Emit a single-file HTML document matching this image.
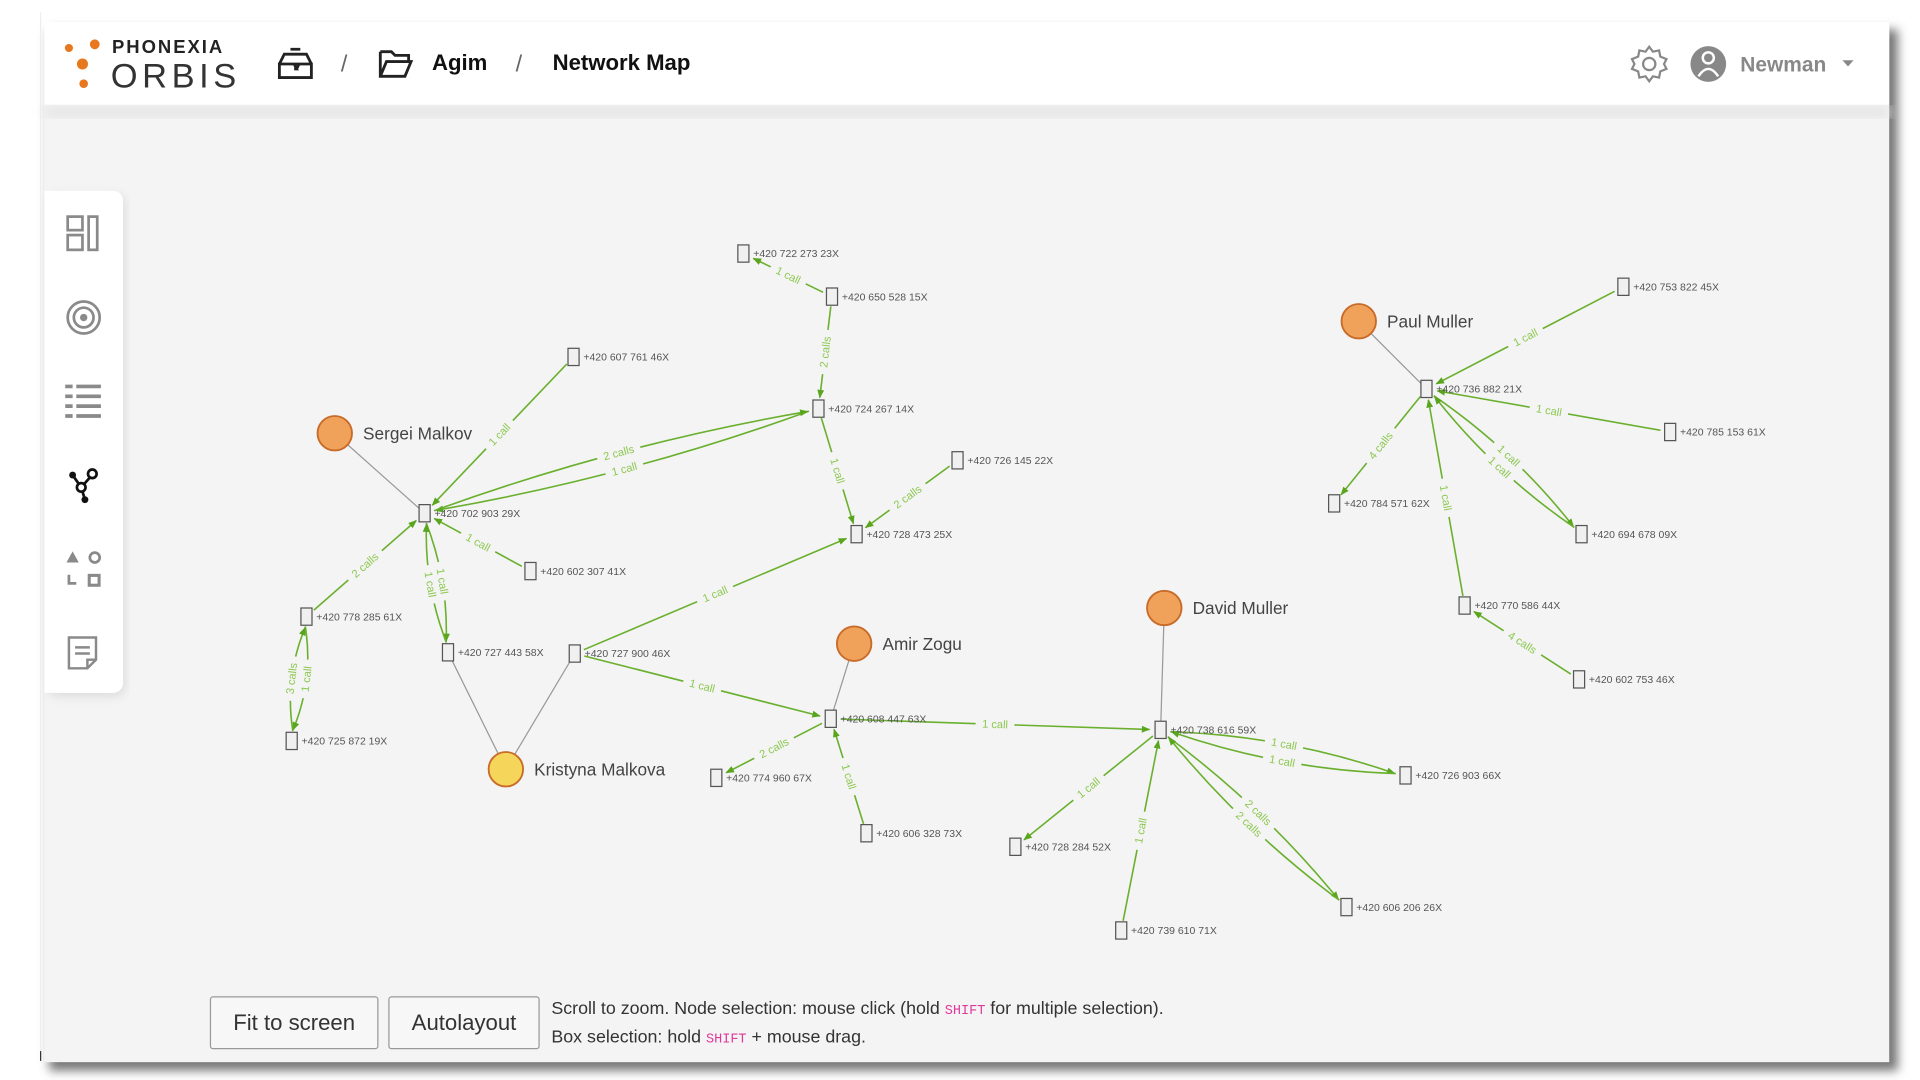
<!DOCTYPE html>
<html><head><meta charset="utf-8"><style>
html,body{margin:0;padding:0;width:1920px;height:1080px;overflow:hidden;background:#fff}
svg{display:block}
</style></head><body>
<svg id="s" width="1920" height="1080" viewBox="0 0 1560 877.5" preserveAspectRatio="none" xmlns="http://www.w3.org/2000/svg" font-family="Liberation Sans, sans-serif">
<defs>
<marker id="ar" viewBox="0 0 10 10" refX="9" refY="5" markerWidth="7" markerHeight="7" orient="auto" markerUnits="userSpaceOnUse"><path d="M0,1 L10,5 L0,9 z" fill="#5aa51e"/></marker>
<filter id="sh" x="-5%" y="-5%" width="110%" height="110%"><feGaussianBlur stdDeviation="4"/></filter>
</defs>
<rect x="40" y="24" width="1502" height="846" fill="#777" filter="url(#sh)"/>
<rect x="36" y="18" width="1499" height="845" fill="#f4f4f4"/>
<line x1="33" y1="10" x2="33" y2="862" stroke="#eee" stroke-width="1"/>
<line x1="33" y1="854" x2="33" y2="862" stroke="#333" stroke-width="1"/>
<rect x="36" y="86" width="1499" height="10" fill="#e6e6e6" filter="url(#sh)"/>
<rect x="36" y="18" width="1499" height="67" fill="#fff"/>
<circle cx="56" cy="39" r="3.3" fill="#e8781e"/><circle cx="77" cy="36" r="4" fill="#e8781e"/>
<circle cx="67" cy="52" r="4.5" fill="#e8781e"/><circle cx="68" cy="68" r="3.5" fill="#e8781e"/>
<text x="91" y="43" font-size="15" font-weight="bold" letter-spacing="1.6" fill="#222">PHONEXIA</text>
<text x="90" y="71" font-size="28" letter-spacing="4" fill="#333" textLength="106">ORBIS</text>
<g fill="none" stroke="#222" stroke-width="2.3"><path d="M227,52 h26 v11 h-26 z M227,52 l4,-8 h18 l4,8 M234,44 h12 M236,40 h8 M233,52 h6 l2,4 h-2 M241,56 l2,-4 h6"/></g>
<text x="277" y="58" font-size="19" fill="#666">/</text>
<g fill="none" stroke="#222" stroke-width="2.3"><path d="M309,42 h9 l3,3 h11 v5 M309,42 v20 h20 l5,-12 h-20 l-5,12"/></g>
<text x="351" y="57" font-size="18" font-weight="bold" fill="#111">Agim</text>
<text x="419" y="58" font-size="19" fill="#666">/</text>
<text x="449" y="57" font-size="18" font-weight="bold" fill="#111">Network Map</text>
<g fill="none" stroke="#888" stroke-width="1.8"><circle cx="1340" cy="52" r="5"/><path d="M1340,38 l3,4 l5,-1 l1,5 l5,2 l-2,4 l2,4 l-5,2 l-1,5 l-5,-1 l-3,4 l-3,-4 l-5,1 l-1,-5 l-5,-2 l2,-4 l-2,-4 l5,-2 l1,-5 l5,1 z"/></g>
<circle cx="1388" cy="52" r="14.5" fill="#888"/><circle cx="1388" cy="47" r="4.5" fill="none" stroke="#fff" stroke-width="2"/><path d="M1380,62 q8,-12 16,0" fill="none" stroke="#fff" stroke-width="2"/>
<text x="1414" y="58" font-size="17" font-weight="bold" fill="#888">Newman</text>
<path d="M1497,49 h9 l-4.5,5 z" fill="#888"/>
<rect x="38" y="158" width="64" height="408" rx="8" fill="#ddd" filter="url(#sh)"/>
<path d="M36,155 h56 a8,8 0 0 1 8,8 v392 a8,8 0 0 1 -8,8 h-56 z" fill="#fff"/>
<g fill="none" stroke="#8a8a8a" stroke-width="2.2">
<rect x="55" y="176" width="12" height="11"/><rect x="55" y="191" width="12" height="12"/><rect x="72" y="176" width="7" height="27"/>
<circle cx="68" cy="258" r="13"/><circle cx="68" cy="258" r="8"/>
</g>
<circle cx="68" cy="258" r="3" fill="#8a8a8a"/>
<g stroke="#8a8a8a" stroke-width="3"><path d="M53,314 h6 M62,314 h20 M53,322 h6 M62,322 h20 M53,330 h6 M62,330 h20 M53,338 h6 M62,338 h20"/></g>
<g stroke="#111" stroke-width="2.2" fill="none"><path d="M59,386 L66,396 L69,406 M66,396 L73,388"/><circle cx="66" cy="396" r="3.5" fill="#fff"/><circle cx="75" cy="385" r="3.5" fill="#fff"/></g>
<circle cx="59" cy="386" r="2.8" fill="#111"/><circle cx="69" cy="406" r="2.8" fill="#111"/>
<path d="M54,457 l5,-9 l5,9 z" fill="#8a8a8a"/><circle cx="77" cy="453" r="4" fill="none" stroke="#8a8a8a" stroke-width="2.2"/>
<path d="M56,467 v7 h6" fill="none" stroke="#8a8a8a" stroke-width="2.2"/><rect x="72.5" y="467.5" width="8" height="8" fill="none" stroke="#8a8a8a" stroke-width="2.5"/>
<g fill="none" stroke="#8a8a8a" stroke-width="2"><path d="M56,518 h22 v18 l-7,7 h-15 z M71,543 v-7 h7 M61,526 h12 M61,531 h12"/></g>
<rect x="171" y="810" width="136" height="42" rx="2" fill="#f7f7f7" stroke="#999"/>
<text x="239" y="837" font-size="18" text-anchor="middle" fill="#333">Fit to screen</text>
<rect x="316" y="810" width="122" height="42" rx="2" fill="#f7f7f7" stroke="#999"/>
<text x="377" y="837" font-size="18" text-anchor="middle" fill="#333">Autolayout</text>
<text x="448" y="824" font-size="14.5" fill="#333">Scroll to zoom. Node selection: mouse click (hold <tspan font-family="Liberation Mono, monospace" font-size="11" fill="#e0389a">SHIFT</tspan> for multiple selection).</text>
<text x="448" y="847" font-size="14.5" fill="#333">Box selection: hold <tspan font-family="Liberation Mono, monospace" font-size="11" fill="#e0389a">SHIFT</tspan> + mouse drag.</text>
<g id="g"></g>
</svg>
<script>
var N={A:[604,206,"+420 722 273 23X"],B:[676,241,"+420 650 528 15X"],C:[466,290,"+420 607 761 46X"],D:[665,332,"+420 724 267 14X"],E:[778,374,"+420 726 145 22X"],F:[345,417,"+420 702 903 29X"],G:[696,434,"+420 728 473 25X"],H:[431,464,"+420 602 307 41X"],I:[249,501,"+420 778 285 61X"],J:[364,530,"+420 727 443 58X"],K:[467,531,"+420 727 900 46X"],L:[237,602,"+420 725 872 19X"],M:[675,584,"+420 608 447 63X"],Nn:[582,632,"+420 774 960 67X"],O:[704,677,"+420 606 328 73X"],P:[943,593,"+420 738 616 59X"],Q:[1142,630,"+420 726 903 66X"],R:[825,688,"+420 728 284 52X"],S:[911,756,"+420 739 610 71X"],T:[1094,737,"+420 606 206 26X"],U:[1319,233,"+420 753 822 45X"],V:[1159,316,"+420 736 882 21X"],W:[1357,351,"+420 785 153 61X"],X:[1084,409,"+420 784 571 62X"],Y:[1285,434,"+420 694 678 09X"],Z:[1190,492,"+420 770 586 44X"],AA:[1283,552,"+420 602 753 46X"]};
var P=[["Sergei Malkov",272,352,"#f0a25a","F"],["Paul Muller",1104,261,"#f0a25a","V"],["Amir Zogu",694,523,"#f0a25a","M"],["David Muller",946,494,"#f0a25a","P"],["Kristyna Malkova",411,625,"#f5d55a","J","K"]];
var E=[["B","A","1 call",0],["B","D","2 calls",0],["C","F","1 call",0],["D","F","1 call",-14],["F","D","2 calls",-14],["D","G","1 call",0],["E","G","2 calls",0],["H","F","1 call",0],["I","F","2 calls",0],["F","J","1 call",-10],["J","F","1 call",-10],["I","L","1 call",-12],["L","I","3 calls",-12],["K","G","1 call",0],["K","M","1 call",0],["M","Nn","2 calls",0],["O","M","1 call",0],["M","P","1 call",0],["P","Q","1 call",-14],["Q","P","1 call",-14],["P","R","1 call",0],["S","P","1 call",0],["P","T","2 calls",-12],["T","P","2 calls",-12],["U","V","1 call",0],["W","V","1 call",0],["V","X","4 calls",0],["V","Y","1 call",-12],["Y","V","1 call",-12],["Z","V","1 call",0],["AA","Z","4 calls",0]];
var g=document.getElementById('g'),h='';
P.forEach(function(p){for(var i=4;i<p.length;i++){var n=N[p[i]];h+='<line x1="'+p[1]+'" y1="'+p[2]+'" x2="'+n[0]+'" y2="'+n[1]+'" stroke="#999" stroke-width="1"/>';}});
E.forEach(function(e){var a=N[e[0]],b=N[e[1]];var dx=b[0]-a[0],dy=b[1]-a[1],L=Math.sqrt(dx*dx+dy*dy),ux=dx/L,uy=dy/L;
var x1=a[0]+ux*8,y1=a[1]+uy*8,x2=b[0]-ux*9,y2=b[1]-uy*9;var mx=(x1+x2)/2-uy*e[3],my=(y1+y2)/2+ux*e[3];
h+='<path d="M'+x1+','+y1+' Q'+mx+','+my+' '+x2+','+y2+'" fill="none" stroke="#6ab02e" stroke-width="1.3" marker-end="url(#ar)"/>';
var lx=(x1+x2)/4+mx/2,ly=(y1+y2)/4+my/2;var ang=Math.atan2(dy,dx)*180/Math.PI;if(ang>90)ang-=180;if(ang<-90)ang+=180;
var w=e[2].length*4.6+4;
h+='<g transform="translate('+lx+','+ly+') rotate('+ang+')"><rect x="'+(-w/2)+'" y="-5" width="'+w+'" height="9" fill="#f4f4f4"/><text x="0" y="3" font-size="9" text-anchor="middle" fill="#8cc850">'+e[2]+'</text></g>';});
for(var k in N){var n=N[k];h+='<rect x="'+(n[0]-4.5)+'" y="'+(n[1]-7)+'" width="9" height="14" fill="#f0f0f0" stroke="#555" stroke-width="1"/><text x="'+(n[0]+8)+'" y="'+(n[1]+3)+'" font-size="8.5" fill="#555">'+n[2]+'</text>';}
P.forEach(function(p){h+='<circle cx="'+p[1]+'" cy="'+p[2]+'" r="14" fill="'+p[3]+'" stroke="#c86a28" stroke-width="1.5"/><text x="'+(p[1]+23)+'" y="'+(p[2]+5)+'" font-size="14" fill="#444">'+p[0]+'</text>';});
g.innerHTML=h;
</script>
</body></html>
